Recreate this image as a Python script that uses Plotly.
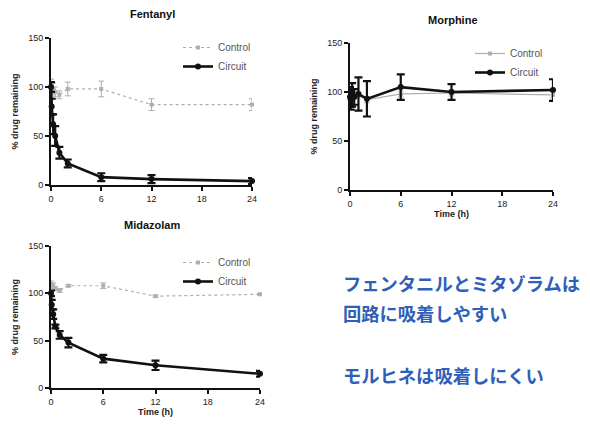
import plotly.graph_objects as go

times = [0, 0.083, 0.25, 0.5, 1, 2, 6, 12, 24]

fen_circuit = [100, 80, 62, 50, 33, 22, 8, 6, 4]
fen_circuit_err = [5, 8, 10, 10, 6, 4, 4, 4, 3]
fen_control = [100, 98, 95, 92, 98, 98, 82, 82]
fen_control_err = [8, 6, 5, 4, 7, 8, 6, 6]
fen_control_t = [0, 0.25, 0.5, 1, 2, 6, 12, 24]

mor_circuit = [95, 92, 97, 95, 98, 93, 105, 100, 102]
mor_circuit_err = [10, 10, 12, 8, 17, 18, 13, 8, 11]
mor_control = [100, 98, 95, 97, 97, 92, 98, 99, 97]
mor_control_err = [3, 3, 3, 3, 3, 3, 3, 3, 3]

mid_circuit = [100, 88, 78, 65, 56, 48, 31, 24, 15]
mid_circuit_err = [3, 5, 5, 2, 4, 5, 4, 5, 3]
mid_control = [110, 108, 105, 103, 108, 108, 97, 99]
mid_control_err = [3, 3, 2, 2, 1, 3, 1, 1]
mid_control_t = [0, 0.25, 0.5, 1, 2, 6, 12, 24]

x_ticks = [0, 6, 12, 18, 24]
y_ticks = [0, 50, 100, 150]

titles = ["Fentanyl", "Morphine", "Midazolam"]
note_lines = ["フェンタニルとミタゾラムは", "回路に吸着しやすい", "モルヒネは吸着しにくい"]

W, H = 590, 426
OFF = 8  # default page body margin
GRAY = "#a9b0b0"
BLACK = "#111111"

fig = go.Figure()

def add_panel(idx, ctrl_t, ctrl, ctrl_err, circ, circ_err, ctrl_dash):
    sfx = "" if idx == 1 else str(idx)
    leg = "legend" if idx == 1 else f"legend{idx}"
    fig.add_trace(go.Scatter(
        x=ctrl_t, y=ctrl, xaxis="x" + sfx, yaxis="y" + sfx, name="Control",
        mode="lines+markers", line=dict(color=GRAY, width=1.2, dash=ctrl_dash),
        marker=dict(color=GRAY, size=4, symbol="square"),
        error_y=dict(type="data", array=ctrl_err, color=GRAY, thickness=1, width=3),
        legend=leg, cliponaxis=False))
    fig.add_trace(go.Scatter(
        x=times, y=circ, xaxis="x" + sfx, yaxis="y" + sfx, name="Circuit",
        mode="lines+markers", line=dict(color=BLACK, width=2.6),
        marker=dict(color=BLACK, size=6),
        error_y=dict(type="data", array=circ_err, color=BLACK, thickness=2.2, width=4),
        legend=leg, cliponaxis=False))

add_panel(1, fen_control_t, fen_control, fen_control_err, fen_circuit, fen_circuit_err, "dot")
add_panel(2, times, mor_control, mor_control_err, mor_circuit, mor_circuit_err, "solid")
add_panel(3, mid_control_t, mid_control, mid_control_err, mid_circuit, mid_circuit_err, "dot")

axfont = dict(family="Liberation Sans, Arial", size=9, color="#222")
tickfont = dict(family="Liberation Sans, Arial", size=9, color="#222")

def fx(p):
    return (p - OFF) / W

def fy(p):
    return 1 - (p - OFF) / H

def xax(a, b, anchor, title=None):
    d = dict(domain=[fx(a), fx(b)], anchor=anchor, range=[0, 24], tickvals=x_ticks, automargin=False,
             showgrid=False, zeroline=False, showline=True, linecolor="#111", linewidth=2,
             ticks="outside", ticklen=4, tickwidth=1.5, tickcolor="#111", tickfont=tickfont)
    if title:
        d["title"] = dict(text="<b>" + title + "</b>", font=axfont, standoff=2)
    return d

def yax(top, bottom, anchor):
    return dict(domain=[fy(bottom), fy(top)], anchor=anchor, range=[0, 150], tickvals=y_ticks,
                automargin=False,
                showgrid=False, zeroline=False, showline=True, linecolor="#111", linewidth=2,
                ticks="outside", ticklen=4, tickwidth=1.5, tickcolor="#111", tickfont=tickfont,
                title=dict(text="<b>% drug remaining</b>", font=axfont, standoff=8))

legfont = dict(family="Liberation Sans, Arial", size=10, color="#555")
def leg(x_px, y_px):
    return dict(x=fx(x_px), y=fy(y_px), xanchor="left", yanchor="top", font=legfont,
                bgcolor="rgba(0,0,0,0)", tracegroupgap=0)

fig.update_layout(
    width=W, height=H, margin=dict(l=0, r=0, t=0, b=0),
    paper_bgcolor="white", plot_bgcolor="white",
    showlegend=True,
    xaxis=xax(51, 252, "y"),
    yaxis=yax(38, 185, "x"),
    xaxis2=xax(350, 553, "y2", "Time (h)"),
    yaxis2=yax(43, 190, "x2"),
    xaxis3=xax(51, 260, "y3", "Time (h)"),
    yaxis3=yax(246, 388, "x3"),
    legend=leg(178, 33),
    legend2=leg(470, 39),
    legend3=leg(178, 248),
)

title_pos = [(152, 14), (453, 20), (152, 225)]
for t, (px, py) in zip(titles, title_pos):
    fig.add_annotation(text="<b>" + t + "</b>", x=fx(px), y=fy(py), xref="paper", yref="paper",
                       xanchor="center", yanchor="middle", showarrow=False,
                       font=dict(family="Liberation Sans, Arial", size=11, color="#111"))

note_y = [283, 313, 375]
for t, py in zip(note_lines, note_y):
    fig.add_annotation(text="<b>" + t + "</b>", x=fx(341), y=fy(py), xref="paper", yref="paper",
                       xanchor="left", yanchor="middle", showarrow=False,
                       font=dict(family="Noto Sans CJK JP", size=18.3, color="#2f5fb8"))

fig.write_html("out.html")
